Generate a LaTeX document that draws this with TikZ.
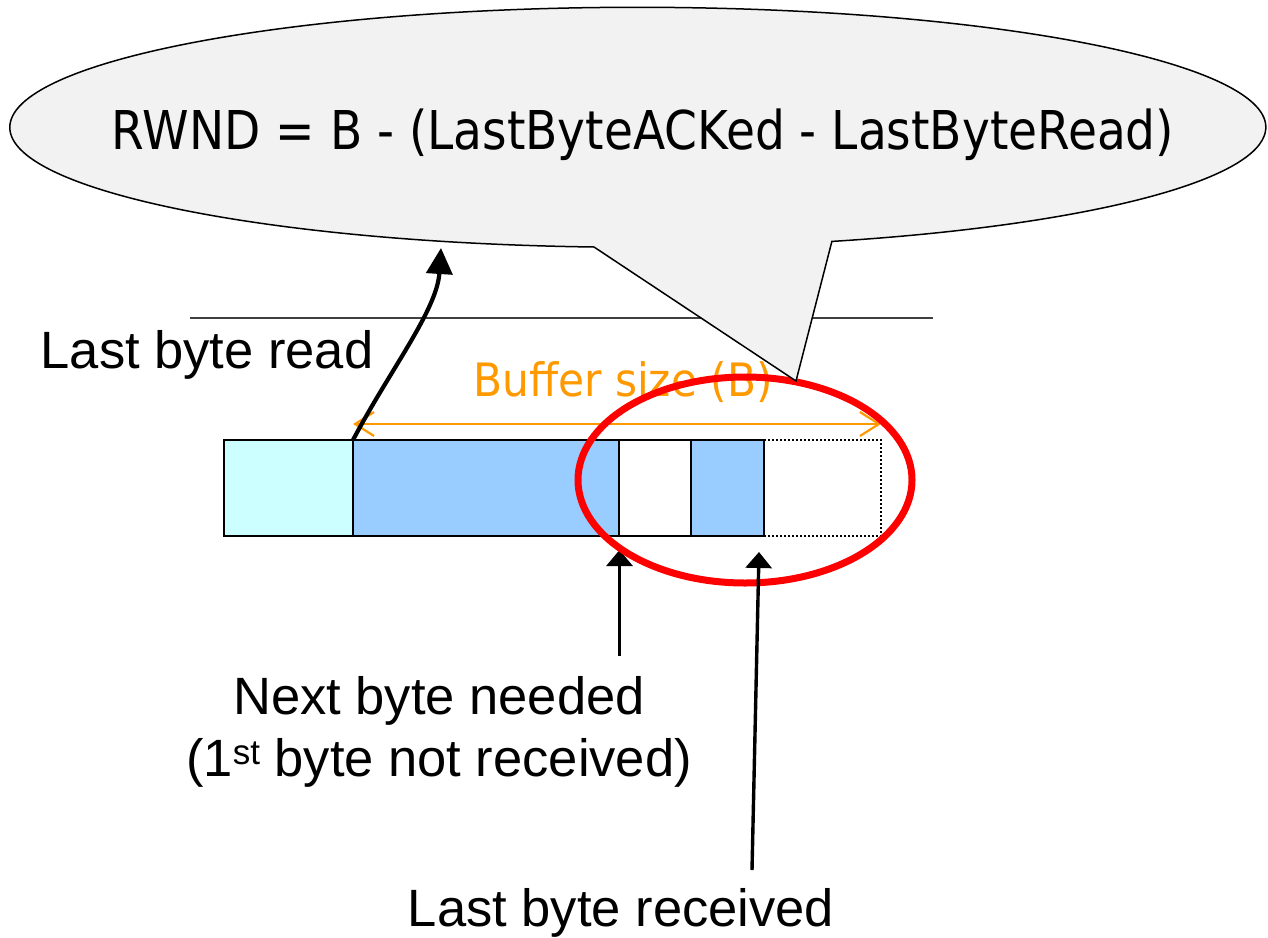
\documentclass[tikz,border=0pt]{standalone}
\usepackage{fontspec}
\setmainfont{Liberation Sans}
\newfontfamily\formfont[FakeStretch=0.88]{DejaVu Sans}
\newfontfamily\sizefont[FakeStretch=0.92]{DejaVu Sans}
\usetikzlibrary{arrows.meta}

\definecolor{bubble}{HTML}{F2F2F2}
\definecolor{readcol}{HTML}{CCFFFF}
\definecolor{rcvdcol}{HTML}{99CCFF}
\definecolor{sizecol}{HTML}{FF9900}
\definecolor{ringcol}{HTML}{FF0000}

\newcommand{\ordsup}[1]{\raisebox{12pt}{\fontsize{35}{35}\selectfont #1}}

\begin{document}
\begin{tikzpicture}[x=1pt,y=-1pt,
  cell/.style={draw=black, line width=2pt, minimum width=#1, minimum height=96pt,
               inner sep=0pt, outer sep=0pt, anchor=north west},
  lbl/.style={font=\fontsize{52.5}{63}\selectfont, inner sep=0pt, anchor=base},
  ptr/.style={line width=3.4pt, -{Triangle[length=16pt,width=26pt]}},
  span/.style={sizecol, line width=2.2pt, >={Straight Barb[length=19pt,width=24pt]}, <->},
]
% canvas
\path[fill=white] (0,0) rectangle (1268,937);
\useasboundingbox (0,0) rectangle (1268,937);

% separator line
\draw[line width=1.5pt, black!75] (190,318) -- (933,318);

% receive buffer
\node[cell=129pt, fill=readcol] (c1) at (224,440) {};
\node[cell=266pt, fill=rcvdcol] (c2) at (353,440) {};
\node[cell=72pt,  fill=white]   (c3) at (619,440) {};
\node[cell=73pt,  fill=rcvdcol] (c4) at (691,440) {};
\node[minimum width=117pt, minimum height=96pt, inner sep=0pt, outer sep=0pt,
      anchor=north west] (c5) at (764,440) {};
\draw[line width=1.8pt, dash pattern=on 2pt off 2pt]
  (c5.north west) -- (c5.north east) -- (c5.south east) -- (c5.south west);

% buffer size span
\coordinate (bl) at (353,424);
\coordinate (br) at (881,424);
\draw[span] (bl) -- (br);
\node[font=\sizefont\fontsize{46}{50}\selectfont, text=sizecol, inner sep=0pt,
      anchor=base] (bsize) at (623,396) {Buffer size (B)};

% next byte needed pointer
\coordinate (n1) at (619.5,656);
\coordinate (n1tip) at (619.5,550);
\draw[ptr] (n1) -- (n1tip);

% highlight ring
\draw[ringcol, line width=7pt] (745,480) ellipse [x radius=167, y radius=103];

% last byte received pointer
\coordinate (r1) at (752,870);
\coordinate (r1tip) at (759,552);
\draw[ptr] (r1) -- (r1tip);

% speech balloon
\draw[fill=bubble, line width=1.5pt, line join=miter]
  (594,247) arc[start angle=94, end angle=432, x radius=628, y radius=120]
  -- (796,381) -- cycle;
\node[font=\formfont\fontsize{53.5}{60}\selectfont, inner sep=0pt, anchor=base]
  (formula) at (643,149) {RWND = B - (LastByteACKed - LastByteRead)};

% last byte read pointer
\coordinate (rd) at (441,248);
\draw[line width=4.2pt, -{Triangle[length=26pt,width=26pt]}]
  (c2.north west) .. controls (390,370) and (437,310) .. (rd);

% labels
\node[lbl] (lread) at (207,368) {Last byte read};
\node[lbl] (need1) at (439,714) {Next byte needed};
\node[lbl] (need2) at (439,776) {(1\ordsup{st} byte not received)};
\node[lbl] (lrcv)  at (621,926) {Last byte received};
\end{tikzpicture}
\end{document}
